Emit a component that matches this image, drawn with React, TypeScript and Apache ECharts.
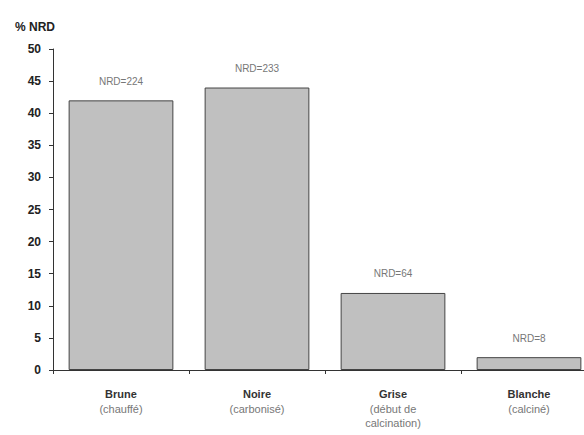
import React, { useEffect, useRef } from "react";
import * as echarts from "echarts";

const categories = ["Brune", "Noire", "Grise", "Blanche"];
const subLabels = ["(chauffé)", "(carbonisé)", "(début de\ncalcination)", "(calciné)"];
const values = [42, 44, 12, 2];
const nrd = [224, 233, 64, 8];
const yTicks = { min: 0, max: 50, interval: 5 };

export default function App() {
  const ref = useRef<HTMLDivElement>(null);
  useEffect(() => {
    if (!ref.current) return;
    const chart = echarts.init(ref.current, null, { renderer: "svg" });
    chart.setOption({
      animation: false,
      backgroundColor: "#ffffff",
      textStyle: { fontFamily: "Liberation Sans, Arial, sans-serif" },
      grid: { left: 53, top: 49, bottom: 65, right: 3, containLabel: false },
      graphic: [
        {
          type: "text",
          left: 15,
          top: 21,
          style: { text: "% NRD", fontSize: 12, fontWeight: "bold", fill: "#222", fontFamily: "Liberation Sans, Arial, sans-serif" },
        },
      ],
      xAxis: {
        type: "category",
        data: categories,
        axisLine: { show: true, lineStyle: { color: "#333", width: 1 } },
        axisTick: { show: true, alignWithLabel: false, length: 4, lineStyle: { color: "#333" } },
        axisLabel: {
          interval: 0,
          margin: 16,
          formatter: (v: string, i: number) => `{a|${v}}\n{b|${subLabels[i].replace("\n", "}\n{b|")}}`,
          rich: {
            a: { fontSize: 11, fontWeight: "bold", color: "#333", lineHeight: 16, fontFamily: "Liberation Sans, Arial, sans-serif" },
            b: { fontSize: 11, color: "#777", lineHeight: 14, fontFamily: "Liberation Sans, Arial, sans-serif" },
          },
        },
      },
      yAxis: {
        type: "value",
        min: yTicks.min,
        max: yTicks.max,
        interval: yTicks.interval,
        splitLine: { show: false },
        axisLine: { show: true, lineStyle: { color: "#333", width: 1 } },
        axisTick: { show: true, length: 4, lineStyle: { color: "#333" } },
        axisLabel: { fontSize: 12, fontWeight: "bold", color: "#222", margin: 12 },
      },
      series: [
        {
          type: "bar",
          data: values,
          barCategoryGap: "23%",
          itemStyle: { color: "#c0c0c0", borderColor: "#444", borderWidth: 1 },
          label: {
            show: true,
            position: "top",
            distance: 14,
            fontSize: 10,
            color: "#777",
            formatter: (p: any) => `NRD=${nrd[p.dataIndex]}`,
          },
        },
      ],
    });
    return () => chart.dispose();
  }, []);
  return (
    <div style={{ position: "fixed", left: 0, top: 0, width: 584, height: 435, overflow: "hidden", background: "#fff" }}>
      <div ref={ref} style={{ width: 600, height: 435 }} />
    </div>
  );
}
